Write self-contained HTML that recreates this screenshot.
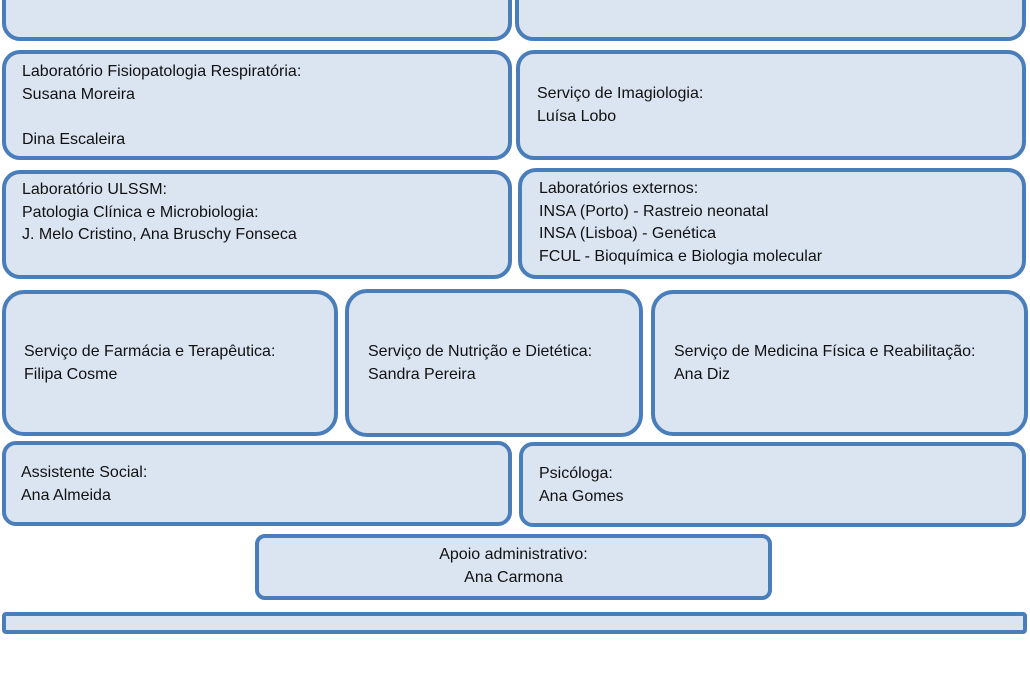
<!DOCTYPE html>
<html><head><meta charset="utf-8"><style>
body{margin:0;width:1030px;height:675px;background:#fff;position:relative;overflow:hidden;font-family:"Liberation Sans",sans-serif;font-size:16px;color:#111}
.b{position:absolute;box-sizing:border-box;background:#dbe5f1;border:4px solid #4a7ebb;border-radius:18px}
.t{position:absolute;line-height:22.5px;white-space:nowrap}
</style></head><body>
<div class="b" style="left:2px;top:-22px;width:510px;height:63px"></div>
<div class="b" style="left:515px;top:-22px;width:511px;height:63px"></div>
<div class="b" style="left:2px;top:50px;width:510px;height:110px"></div>
<div class="t" style="left:22px;top:61px">Laboratório Fisiopatologia Respiratória:<br>Susana Moreira<br><br>Dina Escaleira</div>
<div class="b" style="left:516px;top:50px;width:510px;height:110px"></div>
<div class="t" style="left:537px;top:83px">Serviço de Imagiologia:<br>Luísa Lobo</div>
<div class="b" style="left:2px;top:170px;width:510px;height:109px"></div>
<div class="t" style="left:22px;top:179px">Laboratório ULSSM:<br>Patologia Clínica e Microbiologia:<br>J. Melo Cristino, Ana Bruschy Fonseca</div>
<div class="b" style="left:518px;top:168px;width:508px;height:111px"></div>
<div class="t" style="left:539px;top:178px">Laboratórios externos:<br>INSA (Porto) - Rastreio neonatal<br>INSA (Lisboa) - Genética<br>FCUL - Bioquímica e Biologia molecular</div>
<div class="b" style="left:2px;top:290px;width:336px;height:146px;border-radius:22px"></div>
<div class="t" style="left:24px;top:341px">Serviço de Farmácia e Terapêutica:<br>Filipa Cosme</div>
<div class="b" style="left:345px;top:289px;width:298px;height:148px;border-radius:22px"></div>
<div class="t" style="left:368px;top:341px">Serviço de Nutrição e Dietética:<br>Sandra Pereira</div>
<div class="b" style="left:651px;top:290px;width:377px;height:146px;border-radius:22px"></div>
<div class="t" style="left:674px;top:341px">Serviço de Medicina Física e Reabilitação:<br>Ana Diz</div>
<div class="b" style="left:2px;top:441px;width:510px;height:85px;border-radius:14px"></div>
<div class="t" style="left:21px;top:462px">Assistente Social:<br>Ana Almeida</div>
<div class="b" style="left:519px;top:442px;width:507px;height:85px;border-radius:14px"></div>
<div class="t" style="left:539px;top:463px">Psicóloga:<br>Ana Gomes</div>
<div class="b" style="left:255px;top:534px;width:517px;height:66px;border-radius:10px"></div>
<div class="t" style="left:255px;width:517px;text-align:center;top:544px">Apoio administrativo:<br>Ana Carmona</div>
<div class="b" style="left:2px;top:612px;width:1025px;height:22px;border-radius:4px"></div>
</body></html>
